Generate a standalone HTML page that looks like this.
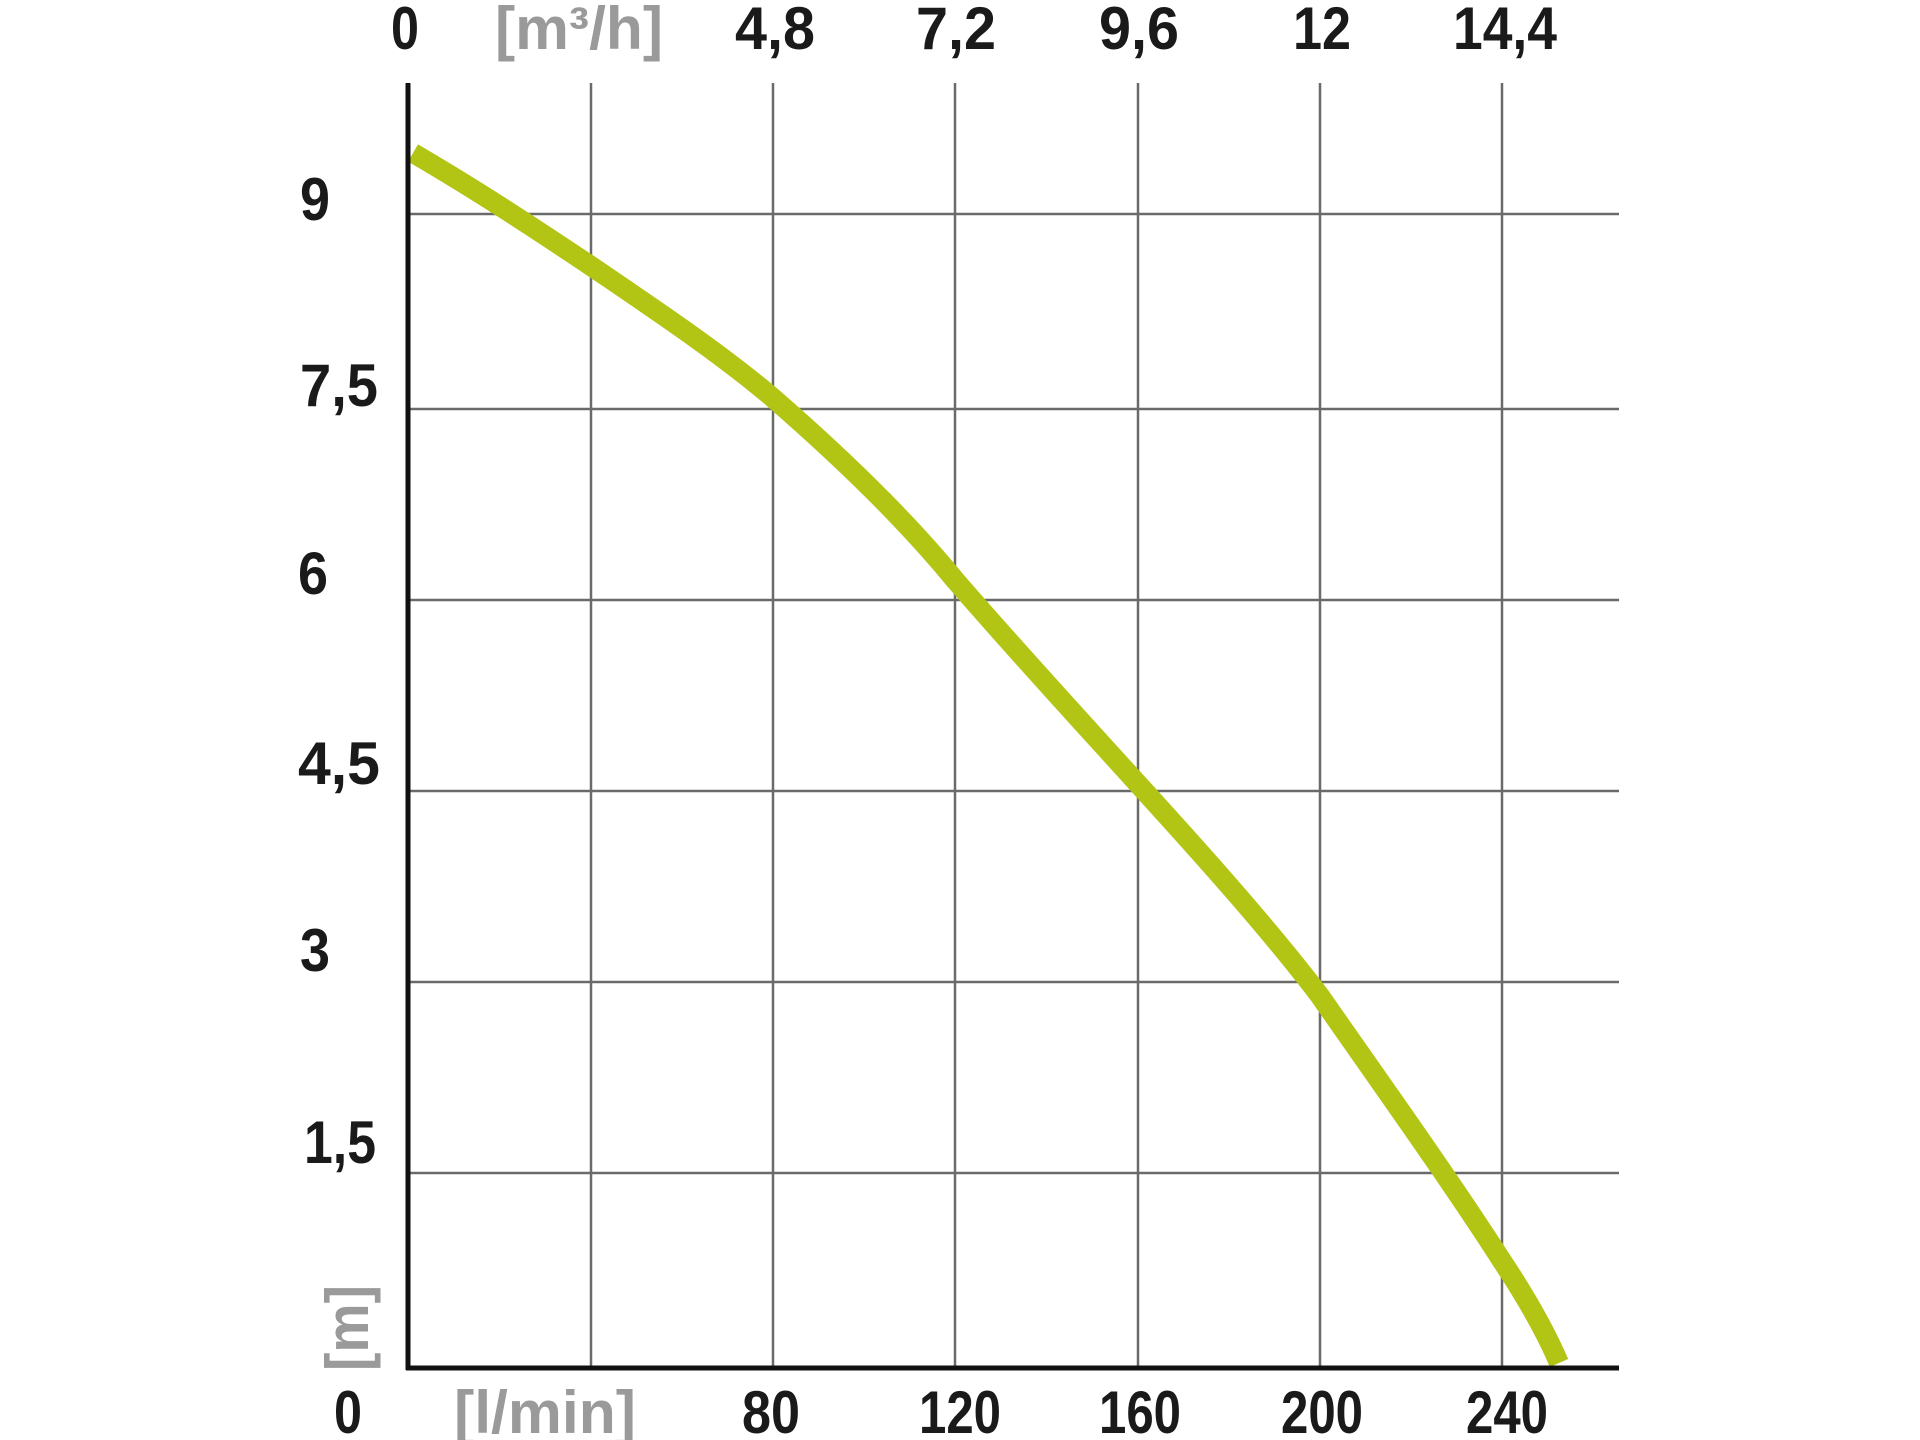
<!DOCTYPE html>
<html><head><meta charset="utf-8"><style>
html,body{margin:0;padding:0;background:#fff;}
svg{display:block}
text{font-family:"Liberation Sans",sans-serif;font-weight:bold;font-size:60px;fill:#1a1a1a}
.g{fill:#9a9a9a}
</style></head><body>
<svg width="1920" height="1440" viewBox="0 0 1920 1440" xmlns="http://www.w3.org/2000/svg">
<g stroke="#6a6a6a" stroke-width="2.5">
<line x1="591" y1="83" x2="591" y2="1368"/>
<line x1="773" y1="83" x2="773" y2="1368"/>
<line x1="955" y1="83" x2="955" y2="1368"/>
<line x1="1138" y1="83" x2="1138" y2="1368"/>
<line x1="1320" y1="83" x2="1320" y2="1368"/>
<line x1="1502" y1="83" x2="1502" y2="1368"/>
<line x1="408" y1="214" x2="1619" y2="214"/>
<line x1="408" y1="409" x2="1619" y2="409"/>
<line x1="408" y1="600" x2="1619" y2="600"/>
<line x1="408" y1="791" x2="1619" y2="791"/>
<line x1="408" y1="982" x2="1619" y2="982"/>
<line x1="408" y1="1173" x2="1619" y2="1173"/>
</g>
<path d="M413,153 C480,192 540,232 591,266 C660,313 720,353 773,398 C850,465 910,525 955,580 C1020,655 1080,720 1138,784 C1200,852 1270,930 1320,996 C1380,1082 1450,1180 1502,1261 C1530,1303 1547,1335 1559,1363" fill="none" stroke="#b2c514" stroke-width="20"/>
<line x1="408" y1="83" x2="408" y2="1370" stroke="#111" stroke-width="5"/>
<line x1="406" y1="1368" x2="1619" y2="1368" stroke="#111" stroke-width="5"/>
<g text-anchor="middle">
<text x="405" y="49" textLength="28" lengthAdjust="spacingAndGlyphs">0</text>
<text x="579" y="49" class="g" textLength="168" lengthAdjust="spacingAndGlyphs">[m³/h]</text>
<text x="775" y="49" textLength="80" lengthAdjust="spacingAndGlyphs">4,8</text>
<text x="956" y="49" textLength="80" lengthAdjust="spacingAndGlyphs">7,2</text>
<text x="1139" y="49" textLength="80" lengthAdjust="spacingAndGlyphs">9,6</text>
<text x="1322" y="49" textLength="58" lengthAdjust="spacingAndGlyphs">12</text>
<text x="1505" y="49" textLength="104" lengthAdjust="spacingAndGlyphs">14,4</text>
<text x="348" y="1433" textLength="28" lengthAdjust="spacingAndGlyphs">0</text>
<text x="545" y="1433" class="g" textLength="182" lengthAdjust="spacingAndGlyphs">[l/min]</text>
<text x="771" y="1433" textLength="58" lengthAdjust="spacingAndGlyphs">80</text>
<text x="960" y="1433" textLength="82" lengthAdjust="spacingAndGlyphs">120</text>
<text x="1140" y="1433" textLength="82" lengthAdjust="spacingAndGlyphs">160</text>
<text x="1322" y="1433" textLength="82" lengthAdjust="spacingAndGlyphs">200</text>
<text x="1507" y="1433" textLength="82" lengthAdjust="spacingAndGlyphs">240</text>
<text x="315" y="220" textLength="30" lengthAdjust="spacingAndGlyphs">9</text>
<text x="339" y="406" textLength="78" lengthAdjust="spacingAndGlyphs">7,5</text>
<text x="313" y="594" textLength="30" lengthAdjust="spacingAndGlyphs">6</text>
<text x="339" y="784" textLength="82" lengthAdjust="spacingAndGlyphs">4,5</text>
<text x="315" y="971" textLength="30" lengthAdjust="spacingAndGlyphs">3</text>
<text x="340" y="1163" textLength="72" lengthAdjust="spacingAndGlyphs">1,5</text>
</g>
<text class="g" text-anchor="middle" textLength="86" lengthAdjust="spacingAndGlyphs" transform="translate(368,1328) rotate(-90)">[m]</text>
</svg>
</body></html>
